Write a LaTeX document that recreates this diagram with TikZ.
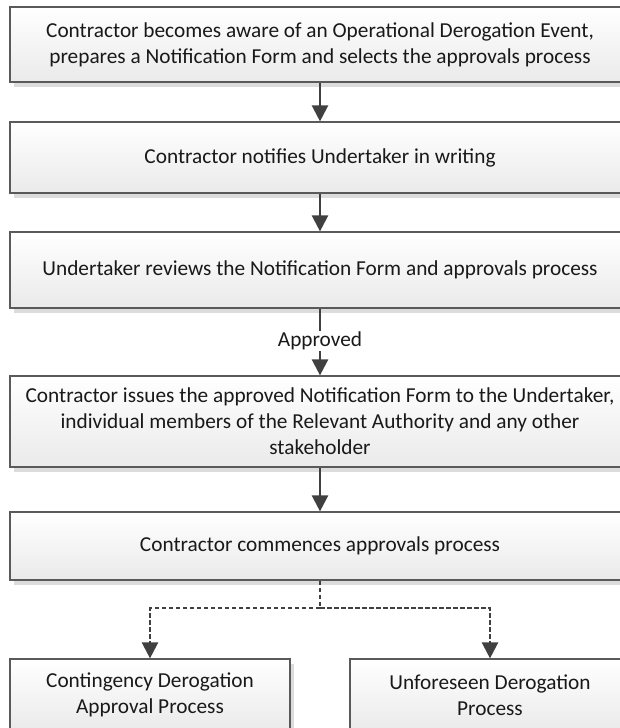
\documentclass[tikz,border=0pt]{standalone}
\usepackage{fontspec}
\setmainfont{Carlito}
\usetikzlibrary{arrows.meta,shadows,positioning}
\definecolor{edgegray}{HTML}{5A5A5A}
\definecolor{arrgray}{HTML}{404040}
\definecolor{fillbot}{HTML}{EAEAEA}
\definecolor{shadowgray}{HTML}{DCDCDC}
\tikzset{
  boxstyle/.style={draw=edgegray, line width=1.2pt, rectangle, top color=white, bottom color=fillbot,
    align=center, font=\fontsize{21.3}{26}\selectfont, text=black!90, inner sep=0pt,
    drop shadow={shadow xshift=4pt, shadow yshift=-5pt, fill=shadowgray, opacity=1}},
  plainline/.style={draw=arrgray, line width=2.4pt},
  arrowline/.style={plainline, -{Triangle[length=16pt,width=16pt,fill=arrgray]}},
  dashline/.style={draw=arrgray, line width=2.4pt, dash pattern=on 4.5pt off 2.5pt},
  approvedlabel/.style={font=\fontsize{21.3}{26}\selectfont, inner xsep=2pt, inner ysep=1pt, text=black!90}
}
\begin{document}
\begin{tikzpicture}[x=1pt,y=-1pt]
\useasboundingbox (0,0) rectangle (620,728);
\clip (0,0) rectangle (620,728);
\node[boxstyle, minimum width=620pt, minimum height=75pt] (b1) at (320,44.5)
  {Contractor becomes aware of an Operational Derogation Event,\\prepares a Notification Form and selects the approvals process};
\node[boxstyle, minimum width=620pt, minimum height=71pt] (b2) at (320,157.5)
  {Contractor notifies Undertaker in writing};
\node[boxstyle, minimum width=620pt, minimum height=76pt] (b3) at (320,270)
  {Undertaker reviews the Notification Form and approvals process};
\node[boxstyle, minimum width=620pt, minimum height=91pt] (b4) at (320,421.5)
  {Contractor issues the approved Notification Form to the Undertaker,\\individual members of the Relevant Authority and any other\\stakeholder};
\node[boxstyle, minimum width=620pt, minimum height=68pt] (b5) at (320,546)
  {Contractor commences approvals process};
\node[boxstyle, minimum width=280pt, minimum height=72pt] (c1) at (150,695)
  {Contingency Derogation\\Approval Process};
\node[boxstyle, minimum width=280pt, minimum height=72pt] (c2) at (490,695)
  {Unforeseen Derogation\\Process};
\node[approvedlabel] (ap) at (320,341) {Approved};
\draw[arrowline] (b1) -- (b2);
\draw[arrowline] (b2) -- (b3);
\draw[plainline] (b3) -- (ap);
\draw[arrowline] (ap) -- (b4);
\draw[arrowline] (b4) -- (b5);
\coordinate (j) at (320,608);
\draw[dashline] (b5) -- (j);
\draw[dashline, -{Triangle[length=16pt,width=16pt,fill=arrgray]}] (j) -| (c1);
\draw[dashline, -{Triangle[length=16pt,width=16pt,fill=arrgray]}] (j) -| (c2);
\end{tikzpicture}
\end{document}
